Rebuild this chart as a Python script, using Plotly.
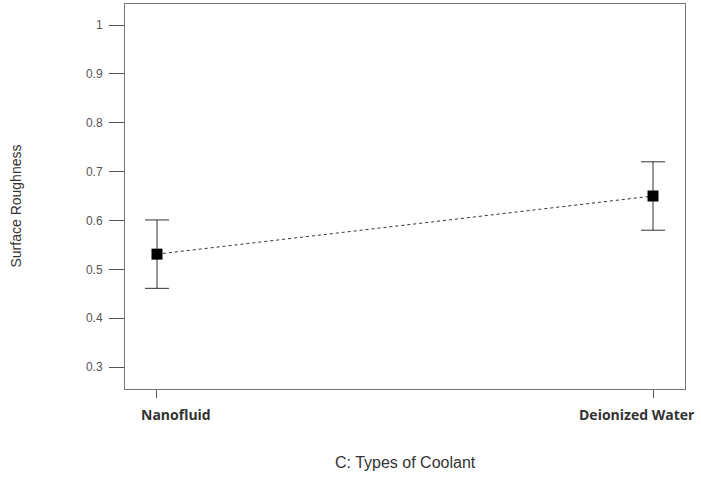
import plotly.graph_objects as go

categories = ["Nanofluid", "Deionized Water"]
means = [0.531, 0.650]
upper = [0.601, 0.720]
lower = [0.461, 0.580]
y_ticks = [0.3, 0.4, 0.5, 0.6, 0.7, 0.8, 0.9, 1.0]

xpos = list(range(len(categories)))
err_plus = [u - m for u, m in zip(upper, means)]
err_minus = [m - l for m, l in zip(means, lower)]

fig = go.Figure()
fig.add_trace(go.Scatter(
    x=xpos, y=means, mode="lines+markers",
    line=dict(color="#333333", width=1, dash="dot"),
    marker=dict(symbol="square", size=11, color="black"),
    error_y=dict(type="data", symmetric=False, array=err_plus, arrayminus=err_minus,
                 color="#333333", thickness=1, width=12),
    showlegend=False,
))

fig.update_layout(
    width=701, height=477,
    margin=dict(l=125, r=16, t=4, b=88),
    paper_bgcolor="white", plot_bgcolor="white",
    font=dict(family="Liberation Sans, Arial", size=11, color="#555555"),
)
fig.update_xaxes(
    range=[-0.0645, 1.0645], tickvals=xpos, ticktext=["", ""],
    showgrid=False, zeroline=False,
    showline=True, linecolor="#777777", linewidth=1, mirror=True,
    ticks="outside", ticklen=8, tickcolor="#555555",
)
fig.update_yaxes(
    range=[0.255, 1.043], tickvals=y_ticks,
    showgrid=False, zeroline=False,
    showline=True, linecolor="#777777", linewidth=1, mirror=True,
    ticks="outside", ticklen=15, tickcolor="#555555",
    ticklabelstandoff=4,
    tickfont=dict(size=12, color="#555555"),
)

# category labels (offset from ticks as in the reference)
fig.add_annotation(x=xpos[0], y=0, xref="x", yref="paper", xshift=19, yshift=-25,
                   text="<b>" + categories[0] + "</b>", showarrow=False,
                   xanchor="center", yanchor="middle",
                   font=dict(family="Open Sans", size=14, color="#333333"))
fig.add_annotation(x=xpos[1], y=0, xref="x", yref="paper", xshift=-16, yshift=-25,
                   text="<b>" + categories[1] + "</b>", showarrow=False,
                   xanchor="center", yanchor="middle",
                   font=dict(family="Open Sans", size=14, color="#333333"))

# axis titles
fig.add_annotation(x=0.5, y=0, xref="paper", yref="paper", yshift=-73,
                   text="C: Types of Coolant", showarrow=False,
                   xanchor="center", yanchor="middle",
                   font=dict(family="Liberation Sans, Arial", size=16, color="#333333"))
fig.add_annotation(x=0, y=0.5, xref="paper", yref="paper", xshift=-110, yshift=-10,
                   text="Surface Roughness", showarrow=False, textangle=-90,
                   xanchor="center", yanchor="middle",
                   font=dict(family="Liberation Sans, Arial", size=14, color="#333333"))

fig.write_html("out.html", config={"displayModeBar": False},
               post_script="document.body.style.margin='0';")
